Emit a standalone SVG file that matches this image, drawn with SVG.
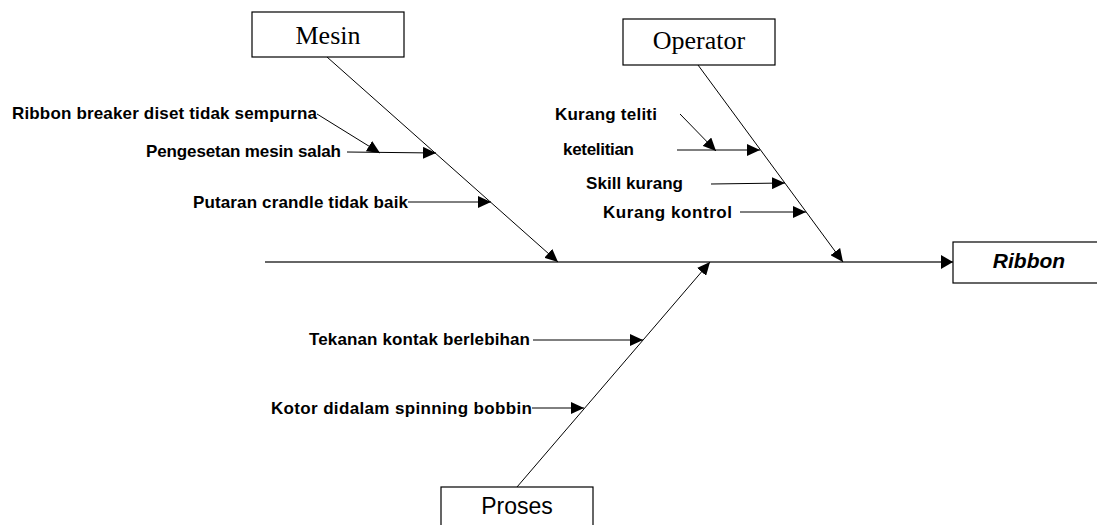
<svg xmlns="http://www.w3.org/2000/svg" width="1097" height="525" viewBox="0 0 1097 525">
<style>
.box{fill:#fff;stroke:#000;stroke-width:1.2}
.ttl{font-family:"Liberation Serif",serif;font-size:26px;text-anchor:middle;fill:#000}
.lbl{font-family:"Liberation Sans",Arial,sans-serif;font-size:17px;font-weight:bold;fill:#000}
.ln{stroke:#000;stroke-width:1;fill:none;marker-end:url(#ah)}
.spine{stroke:#333;stroke-width:1.6;fill:none;marker-end:url(#ah2)}
</style>
<defs>
<marker id="ah" markerUnits="userSpaceOnUse" markerWidth="14" markerHeight="12" refX="13" refY="6" orient="auto"><path d="M0,0 L13,6 L0,12 z" fill="#000"/></marker>
<marker id="ah2" markerUnits="userSpaceOnUse" markerWidth="14" markerHeight="14" refX="12" refY="7" orient="auto"><path d="M0,0 L12,7 L0,14 z" fill="#000"/></marker>
</defs>
<rect width="1097" height="525" fill="#fff"/>
<g id="connectors">
<line class="spine" x1="265" y1="262" x2="953" y2="262"/>
<line class="ln" x1="327" y1="57" x2="558" y2="262"/>
<line class="ln" x1="698" y1="65" x2="843" y2="262"/>
<line class="ln" x1="517" y1="487" x2="710" y2="262"/>
<line class="ln" x1="317" y1="114" x2="380" y2="153"/>
<line class="ln" x1="347" y1="152" x2="436" y2="153"/>
<line class="ln" x1="408" y1="202" x2="491" y2="202"/>
<line class="ln" x1="680" y1="114" x2="716" y2="151"/>
<line class="ln" x1="677" y1="150" x2="760" y2="150"/>
<line class="ln" x1="711" y1="184" x2="785" y2="183"/>
<line class="ln" x1="740" y1="212" x2="806" y2="212"/>
<line class="ln" x1="533" y1="340" x2="643" y2="340"/>
<line class="ln" x1="532" y1="408" x2="584" y2="408"/>
</g>
<g id="mesin"><rect class="box" x="252" y="12" width="152" height="45"/><text class="ttl" x="328" y="44">Mesin</text></g>
<g id="operator"><rect class="box" x="623" y="19" width="152" height="46"/><text class="ttl" x="699" y="49">Operator</text></g>
<g id="ribbon"><rect class="box" x="953" y="242" width="160" height="41"/><text x="1029" y="268" font-family="Liberation Sans, Arial, sans-serif" font-size="21" font-weight="bold" font-style="italic" text-anchor="middle">Ribbon</text></g>
<g id="proses"><rect class="box" x="441" y="487" width="152" height="50"/><text x="517" y="514" font-family="Liberation Sans, Arial, sans-serif" font-size="23" text-anchor="middle">Proses</text></g>
<g id="labels">
<text class="lbl" x="12" y="119" textLength="305">Ribbon breaker diset tidak sempurna</text>
<text class="lbl" x="146" y="157" textLength="195">Pengesetan mesin salah</text>
<text class="lbl" x="193" y="208" textLength="215">Putaran crandle tidak baik</text>
<text class="lbl" x="555" y="120" textLength="102">Kurang teliti</text>
<text class="lbl" x="563" y="155" textLength="71">ketelitian</text>
<text class="lbl" x="586" y="189" textLength="97">Skill kurang</text>
<text class="lbl" x="603" y="218" textLength="129">Kurang kontrol</text>
<text class="lbl" x="309" y="345" textLength="221">Tekanan kontak berlebihan</text>
<text class="lbl" x="271" y="414" textLength="261">Kotor didalam spinning bobbin</text>
</g>
</svg>
